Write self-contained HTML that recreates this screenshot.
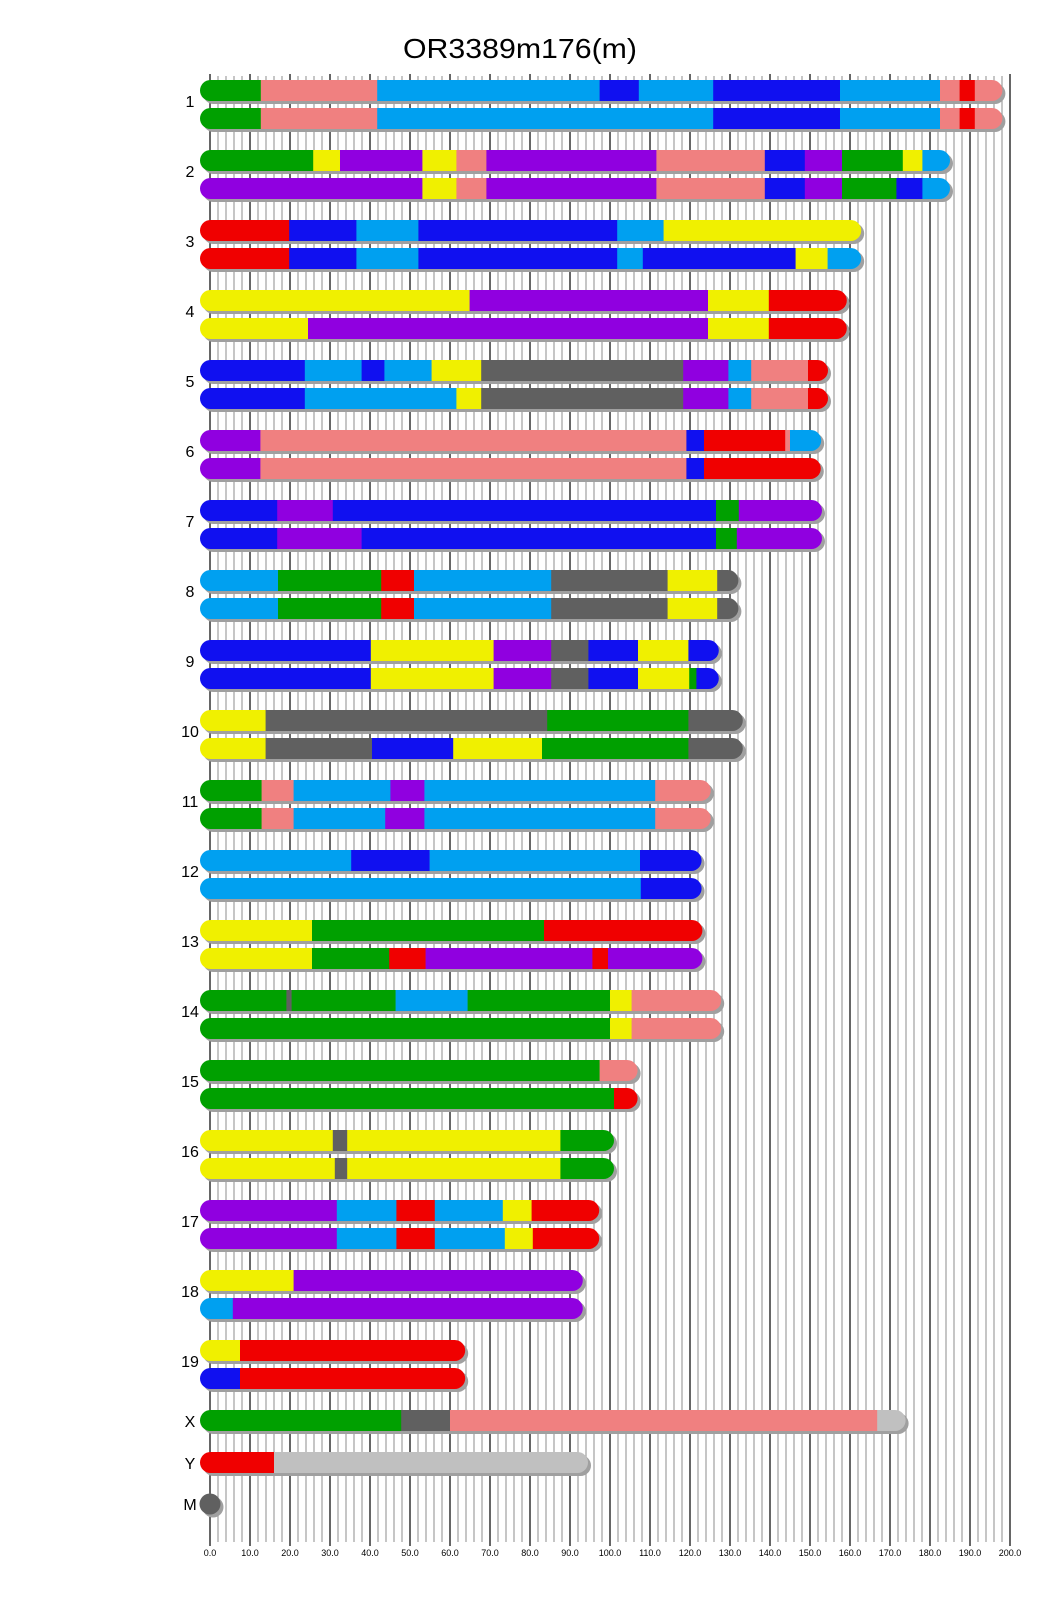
<!DOCTYPE html>
<html><head><meta charset="utf-8"><style>
html,body{margin:0;padding:0;background:#fff;}
svg{display:block;}
</style></head><body>
<svg id="s" width="1040" height="1616" xmlns="http://www.w3.org/2000/svg" font-family="Liberation Sans, sans-serif"></svg>
<script>
var G='#00a000',S='#f08080',L='#00a0f0',B='#1010f0',R='#f00000',Y='#f0f000',P='#9000e0',D='#606060',Q='#c0c0c0';
var chr=[
['1',[[G,12.7],[S,41.8],[L,97.4],[B,107.2],[L,125.8],[B,157.5],[L,182.5],[S,187.4],[R,191.2],[S,195.6]],
     [[G,12.7],[S,41.8],[L,125.8],[B,157.5],[L,182.5],[S,187.4],[R,191.2],[S,195.6]]],
['2',[[G,25.8],[Y,32.5],[P,53.1],[Y,61.6],[S,69.1],[P,111.6],[S,138.7],[B,148.7],[P,158],[G,173.2],[Y,178.1],[L,182.5]],
     [[P,53.1],[Y,61.6],[S,69.1],[P,111.6],[S,138.7],[B,148.7],[P,158],[G,171.6],[B,178.1],[L,182.5]]],
['3',[[R,19.8],[B,36.6],[L,52.1],[B,101.8],[L,113.4],[Y,160.3]],
     [[R,19.8],[B,36.6],[L,52.1],[B,101.8],[L,108.2],[B,146.4],[Y,154.4],[L,160.3]]],
['4',[[Y,64.9],[P,124.5],[Y,139.7],[R,156.7]],
     [[Y,24.5],[P,124.5],[Y,139.7],[R,156.7]]],
['5',[[B,23.7],[L,37.9],[B,43.6],[L,55.4],[Y,67.8],[D,118.3],[P,129.6],[L,135.3],[S,149.5],[R,152]],
     [[B,23.7],[L,61.6],[Y,67.8],[D,118.3],[P,129.6],[L,135.3],[S,149.5],[R,152]]],
['6',[[P,12.6],[S,119.1],[B,123.5],[R,143.8],[S,145],[L,150.3]],
     [[P,12.6],[S,119.1],[B,123.5],[R,150.2]]],
['7',[[B,16.8],[P,30.7],[B,126.5],[G,132.2],[P,150.5]],
     [[B,16.8],[P,37.9],[B,126.5],[G,131.7],[P,150.5]]],
['8',[[L,17],[G,42.8],[R,51],[L,85.3],[D,114.4],[Y,126.8],[D,129.6]],
     [[L,17],[G,42.8],[R,51],[L,85.3],[D,114.4],[Y,126.8],[D,129.6]]],
['9',[[B,40.2],[Y,70.9],[P,85.3],[D,94.6],[B,107],[Y,119.6],[B,124.7]],
     [[B,40.2],[Y,70.9],[P,85.3],[D,94.6],[B,107],[Y,119.8],[G,121.6],[B,124.7]]],
['10',[[Y,13.9],[D,84.3],[G,119.6],[D,130.7]],
      [[Y,13.9],[D,40.5],[B,60.8],[Y,83],[G,119.6],[D,130.7]]],
['11',[[G,12.9],[S,20.9],[L,45.1],[P,53.6],[L,111.3],[S,122.7]],
      [[G,12.9],[S,20.9],[L,43.8],[P,53.6],[L,111.3],[S,122.7]]],
['12',[[L,35.3],[B,54.9],[L,107.5],[B,120.4]],
      [[L,107.7],[B,120.4]]],
['13',[[Y,25.5],[G,83.5],[R,120.6]],
      [[Y,25.5],[G,44.8],[R,53.9],[P,95.6],[R,99.5],[P,120.6]]],
['14',[[G,19.1],[D,20.4],[G,46.4],[L,64.4],[G,100],[Y,105.4],[S,125.3]],
      [[G,100],[Y,105.4],[S,125.3]]],
['15',[[G,97.4],[S,104.4]],
      [[G,101],[R,104.4]]],
['16',[[Y,30.7],[D,34.3],[Y,87.6],[G,98.5]],
      [[Y,31.2],[D,34.3],[Y,87.6],[G,98.5]]],
['17',[[P,31.7],[L,46.6],[R,56.2],[L,73.2],[Y,80.4],[R,94.8]],
      [[P,31.7],[L,46.6],[R,56.2],[L,73.7],[Y,80.7],[R,94.8]]],
['18',[[Y,20.9],[P,90.7]],
      [[L,5.7],[P,90.7]]],
['19',[[Y,7.5],[R,61.3]],
      [[B,7.5],[R,61.3]]]
];
var x0=210,k=4,h=21,out=[];
out.push('<text x="520" y="58" font-size="28" text-anchor="middle" textLength="234" lengthAdjust="spacingAndGlyphs">OR3389m176(m)</text>');
for(var u=0;u<=200;u+=2){var x=x0+u*k;if(u%10==0){out.push('<line x1="'+x+'" y1="74" x2="'+x+'" y2="1546" stroke="#000" stroke-width="1.2"/>');out.push('<text x="'+x+'" y="1556" font-size="9" text-anchor="middle">'+u.toFixed(1)+'</text>');}else out.push('<line x1="'+x+'" y1="76" x2="'+x+'" y2="1542" stroke="#a0a0a0" stroke-width="1.2"/>');}
var cid=0;
function bar(y,segs){
  var end=segs[segs.length-1][1];var w=end*k+20;cid++;
  out.push('<rect x="203" y="'+(y+3)+'" width="'+w+'" height="'+h+'" rx="10.5" fill="#a0a0a0"/>');
  out.push('<clipPath id="c'+cid+'"><rect x="200" y="'+y+'" width="'+w+'" height="'+h+'" rx="10.5"/></clipPath><g clip-path="url(#c'+cid+')">');
  var a=0;
  for(var i=0;i<segs.length;i++){var b=segs[i][1];var xa=(i==0)?200:x0+a*k;var xb=(i==segs.length-1)?x0+b*k+10:x0+b*k;
    out.push('<rect x="'+xa+'" y="'+y+'" width="'+(xb-xa+0.3)+'" height="'+h+'" fill="'+segs[i][0]+'"/>');a=b;}
  out.push('</g>');
}
function lab(t,y){out.push('<text x="190" y="'+y+'" font-size="16" text-anchor="middle">'+t+'</text>');}
for(var i=0;i<chr.length;i++){var y=80+70*i;bar(y,chr[i][1]);bar(y+28,chr[i][2]);lab(chr[i][0],y+27);}
bar(1410,[[G,47.8],[D,60],[S,166.8],[Q,171.4]]);lab('X',1427);
bar(1452,[[R,16],[Q,92]]);lab('Y',1469);
out.push('<circle cx="213" cy="1507" r="10.5" fill="#a0a0a0"/><circle cx="210" cy="1504" r="10.5" fill="#606060"/>');lab('M',1510);
document.getElementById('s').innerHTML=out.join('');
</script>
</body></html>
